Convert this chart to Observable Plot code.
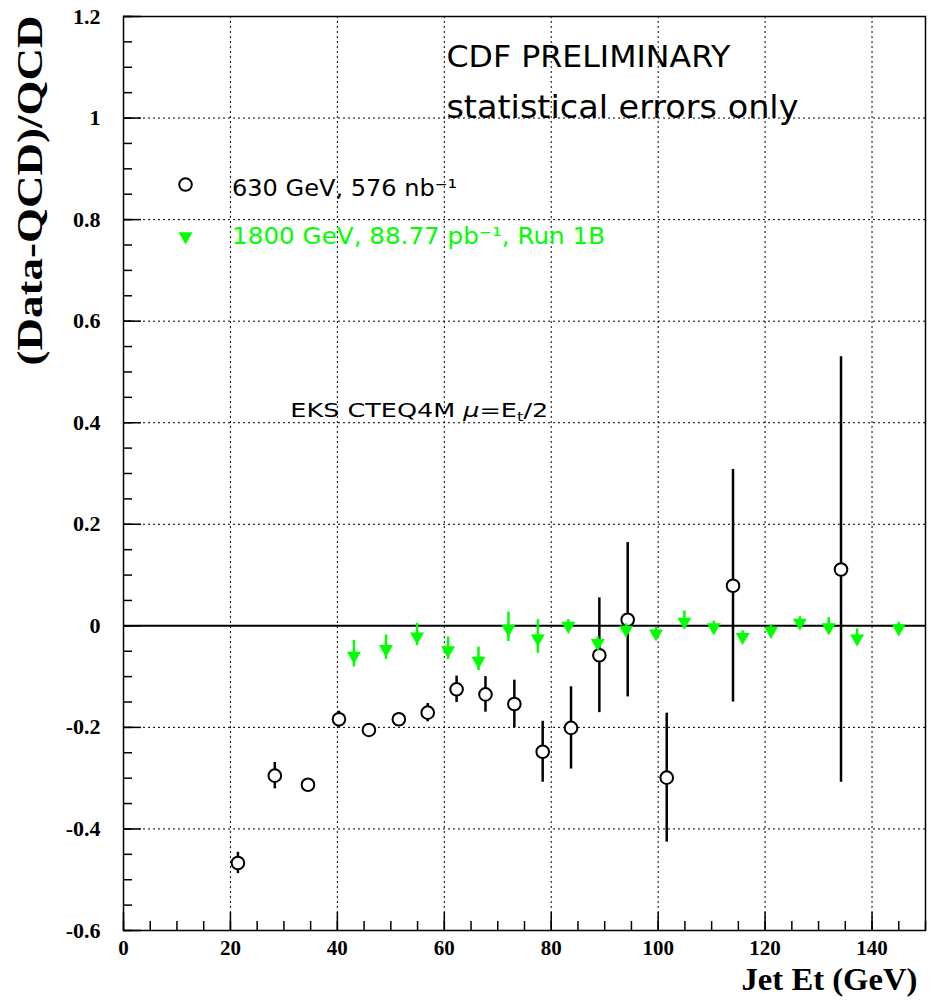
<!DOCTYPE html>
<html>
<head>
<meta charset="utf-8">
<script src="https://cdn.jsdelivr.net/npm/d3@7"></script>
<script src="https://cdn.jsdelivr.net/npm/@observablehq/plot@0.6"></script>
<style>
  html, body { margin: 0; padding: 0; background: #fff; }
  svg { display: block; }
</style>
</head>
<body>
<div id="chart"></div>
<script>
// ---- data: 630 GeV (open circles) ----
const et630    = [21.4, 28.3, 34.5, 40.3, 45.9, 51.5, 56.9, 62.3, 67.7, 73.1, 78.4, 83.7, 89.0, 94.3, 101.6, 114.0, 134.2];
const ratio630 = [-0.467, -0.295, -0.313, -0.184, -0.205, -0.184, -0.171, -0.125, -0.135, -0.154, -0.248, -0.201, -0.058, 0.012, -0.299, 0.079, 0.111];
const err630   = [0.021, 0.026, 0.005, 0.016, 0.006, 0.006, 0.018, 0.026, 0.035, 0.047, 0.060, 0.081, 0.113, 0.152, 0.127, 0.229, 0.419];

// ---- data: 1800 GeV (green triangles) ----
const et1800    = [43.1, 49.1, 54.9, 60.7, 66.4, 72.0, 77.5, 83.2, 88.7, 94.0, 99.6, 104.9, 110.4, 115.8, 121.1, 126.5, 131.9, 137.2, 145.0];
const ratio1800 = [-0.055, -0.042, -0.017, -0.044, -0.065, -0.002, -0.021, 0.004, -0.030, -0.004, -0.011, 0.012, 0.001, -0.018, -0.006, 0.010, 0.001, -0.021, -0.001];
const err1800   = [0.026, 0.024, 0.022, 0.022, 0.023, 0.029, 0.033, 0.008, 0.008, 0.008, 0.008, 0.017, 0.008, 0.008, 0.008, 0.008, 0.015, 0.015, 0.008];

// ---- axes ----
const xTicks = [0, 20, 40, 60, 80, 100, 120, 140];
const xTickLabels = ["0", "20", "40", "60", "80", "100", "120", "140"];
const yTicks = [-0.6, -0.4, -0.2, 0, 0.2, 0.4, 0.6, 0.8, 1, 1.2];
const yTickLabels = ["-0.6", "-0.4", "-0.2", "0", "0.2", "0.4", "0.6", "0.8", "1", "1.2"];
const xGrid = [20, 40, 60, 80, 100, 120, 140];
const yGrid = [-0.4, -0.2, 0.2, 0.4, 0.6, 0.8, 1.0];
const xMinor = d3.range(0, 31).map(i => i * 5);
const yMinor = d3.range(0, 37).map(i => Math.round((-0.6 + i * 0.05) * 100) / 100);

const xTitle = "Jet Et (GeV)";
const yTitle = "(Data-QCD)/QCD";

// ---- texts ----
const legendLabels = ["630 GeV, 576 nb\u207B\u00B9", "1800 GeV, 88.77 pb\u207B\u00B9, Run 1B"];
const noteLines = ["CDF PRELIMINARY", "statistical errors only"];
const theoryLabel = "EKS CTEQ4M \u03BC=E_t/2";

const GREEN = "#00ff00";
const d630 = et630.map((x, i) => ({x, y: ratio630[i], e: err630[i]}));
const d1800 = et1800.map((x, i) => ({x, y: ratio1800[i], e: err1800[i]}));

const serif = "'Liberation Serif', 'Times New Roman', serif";
const sans = "'DejaVu Sans', sans-serif";

const svg = Plot.plot({
  width: 930,
  height: 1003,
  marginLeft: 123,
  marginRight: 5,
  marginTop: 16,
  marginBottom: 73,
  style: {background: "white", color: "black"},
  x: {domain: [0, 150], label: null},
  y: {domain: [-0.6, 1.2], label: null},
  marks: [
    Plot.gridX({ticks: xGrid, stroke: "black", strokeOpacity: 1, strokeWidth: 1, strokeDasharray: "2,3"}),
    Plot.gridY({ticks: yGrid, stroke: "black", strokeOpacity: 1, strokeWidth: 1, strokeDasharray: "2,3"}),
    Plot.ruleY([0], {stroke: "black", strokeWidth: 2}),
    // minor + major ticks pointing inward
    Plot.axisY({ticks: yMinor, tickSize: 9, insetLeft: 9, tickFormat: () => "", label: null, strokeWidth: 1.5}),
    Plot.axisY({ticks: yTicks, tickSize: 18, insetLeft: 18, tickFormat: () => "", label: null, strokeWidth: 1.5}),
    Plot.axisX({ticks: xMinor, tickSize: 9, insetBottom: 9, tickFormat: () => "", label: null, strokeWidth: 1.5}),
    Plot.axisX({ticks: xTicks, tickSize: 18, insetBottom: 18, tickFormat: () => "", label: null, strokeWidth: 1.5}),
    // tick labels
    Plot.axisY({ticks: yTicks, tickSize: 0, tickPadding: 23, label: null,
      tickFormat: d => yTickLabels[yTicks.indexOf(d)],
      fontSize: 22, fontWeight: "bold", fontFamily: serif}),
    Plot.axisX({ticks: xTicks, tickSize: 0, tickPadding: 10, label: null,
      tickFormat: d => xTickLabels[xTicks.indexOf(d)],
      fontSize: 21, fontWeight: "bold", fontFamily: serif}),
    // axis titles
    Plot.text([yTitle], {frameAnchor: "top-left", rotate: -90, textAnchor: "end", lineAnchor: "middle",
      dx: -93, dy: -1, fontSize: 36, fontWeight: "bold", fontFamily: serif, fill: "black"}),
    Plot.text([xTitle], {frameAnchor: "bottom-right", textAnchor: "end", lineAnchor: "bottom",
      dx: -8, dy: 59, fontSize: 31, fontWeight: "bold", fontFamily: serif, fill: "black"}),
    // 630 GeV error bars + circles
    Plot.ruleX(d630, {x: "x", y1: d => d.y - d.e, y2: d => d.y + d.e, stroke: "black", strokeWidth: 2.5}),
    Plot.dot(d630, {x: "x", y: "y", r: 6.3, stroke: "black", strokeWidth: 2, fill: "white"}),
    // 1800 GeV error bars + triangles
    Plot.ruleX(d1800, {x: "x", y1: d => d.y - d.e, y2: d => d.y + d.e, stroke: GREEN, strokeWidth: 2.5}),
    Plot.dot(d1800, {x: "x", y: "y", symbol: "triangle", rotate: 180, r: 5.2, fill: GREEN, stroke: "none", dy: 2}),
    // legend
    Plot.dot([{x: 11.6, y: 0.869}], {x: "x", y: "y", r: 6.3, stroke: "black", strokeWidth: 2, fill: "white"}),
    Plot.dot([{x: 11.6, y: 0.771}], {x: "x", y: "y", symbol: "triangle", rotate: 180, r: 5.2, fill: GREEN, dy: 2}),
    Plot.text([legendLabels[0]], {x: 20.3, y: 0.847, textAnchor: "start", lineAnchor: "bottom",
      fontSize: 23, fontFamily: sans, fill: "black"}),
    Plot.text([legendLabels[1]], {x: 20.3, y: 0.752, textAnchor: "start", lineAnchor: "bottom",
      fontSize: 23, fontFamily: sans, fill: GREEN}),
    // notes
    Plot.text([noteLines[0]], {x: 60.4, y: 1.10, textAnchor: "start", lineAnchor: "bottom",
      fontSize: 30, fontFamily: sans, fill: "black"}),
    Plot.text([noteLines[1]], {x: 60.4, y: 1.0, textAnchor: "start", lineAnchor: "bottom",
      fontSize: 32, fontFamily: sans, fill: "black"}),
    Plot.text([theoryLabel], {x: 31.2, y: 0.412, textAnchor: "start", lineAnchor: "bottom",
      fontSize: 20, fontFamily: sans, fill: "black"}),
    Plot.frame({stroke: "black", strokeWidth: 1.5})
  ]
});

// stretch wide-font annotation texts to their measured widths
const textWidths = new Map([
  [noteLines[0], 284],
  [noteLines[1], 352],
  [legendLabels[0], 225],
  [legendLabels[1], 373],
  [theoryLabel, 258],
  [yTitle, 350],
  [xTitle, 176]
]);
d3.select(svg).selectAll("text").each(function() {
  const t = this.textContent;
  if (!textWidths.has(t)) return;
  const sel = d3.select(this);
  sel.attr("textLength", textWidths.get(t)).attr("lengthAdjust", "spacingAndGlyphs");
  if (t === theoryLabel) {
    sel.text(null);
    sel.append("tspan").text("EKS CTEQ4M ");
    sel.append("tspan").attr("font-style", "italic").text("\u03BC");
    sel.append("tspan").text("=E");
    sel.append("tspan").attr("font-size", "13").attr("dy", "4").text("t");
    sel.append("tspan").attr("dy", "-4").text("/2");
  }
});

document.getElementById("chart").appendChild(svg);
</script>
</body>
</html>
